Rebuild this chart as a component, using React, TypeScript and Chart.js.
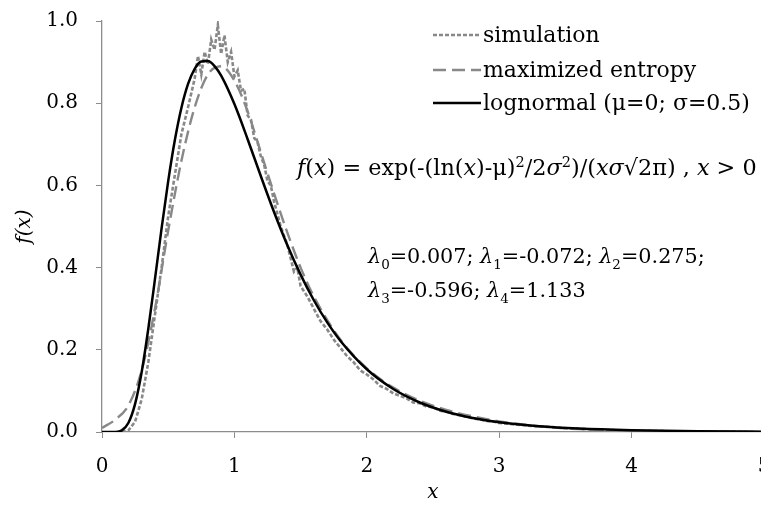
import React, { useEffect, useRef } from "react";
import { Chart, registerables } from "chart.js";

Chart.register(...registerables);

// ---- Data ----
const lognormX = [0, 0.05, 0.1, 0.15, 0.2, 0.25, 0.3, 0.35, 0.4, 0.45, 0.5, 0.55, 0.6, 0.65, 0.7, 0.75, 0.8, 0.85, 0.9, 1.0, 1.1, 1.2, 1.3, 1.4, 1.5, 1.6, 1.7, 1.8, 2.0, 2.2, 2.4, 2.6, 2.8, 3.0, 3.3, 3.6, 4.0, 4.5, 5.0];
const lognormY = [0, 0, 0.0002, 0.004, 0.0225, 0.0684, 0.1465, 0.2517, 0.372, 0.4954, 0.6104, 0.7098, 0.7891, 0.8469, 0.8837, 0.9015, 0.9028, 0.8904, 0.867, 0.7979, 0.7123, 0.6222, 0.5348, 0.4545, 0.3829, 0.3206, 0.2672, 0.2221, 0.1526, 0.1046, 0.0718, 0.0494, 0.0342, 0.0238, 0.014, 0.0083, 0.0043, 0.0019, 0.0009];

const maxEntX = [0, 0.1, 0.2, 0.3, 0.4, 0.5, 0.6, 0.7, 0.8, 0.9, 1.0, 1.1, 1.2, 1.3, 1.4, 1.5, 1.6, 1.8, 2.0, 2.2, 2.4, 2.6, 2.8, 3.0, 3.3, 3.6, 4.0, 4.5, 5.0];
const maxEntY = [0.01, 0.03, 0.065, 0.15, 0.3, 0.49, 0.66, 0.79, 0.87, 0.89, 0.855, 0.78, 0.68, 0.58, 0.485, 0.4, 0.33, 0.225, 0.155, 0.108, 0.076, 0.054, 0.038, 0.026, 0.014, 0.007, 0.003, 0.001, 0.0];

const simX = [0.15, 0.2, 0.25, 0.3, 0.35, 0.4, 0.45, 0.5, 0.55, 0.6, 0.65, 0.7, 0.725, 0.75, 0.775, 0.8, 0.825, 0.85, 0.875, 0.9, 0.925, 0.95, 0.975, 1.0, 1.025, 1.05, 1.075, 1.1, 1.125, 1.15, 1.175, 1.2, 1.225, 1.25, 1.275, 1.3, 1.35, 1.4, 1.45, 1.475, 1.5, 1.55, 1.6, 1.65, 1.7, 1.75, 1.8, 1.85, 1.9, 1.95, 2.0, 2.05, 2.1, 2.15, 2.2, 2.25, 2.3, 2.35, 2.4, 2.45, 2.5, 2.55, 2.6, 2.65, 2.7, 2.75, 2.8, 2.85, 2.9, 2.95, 3.0, 3.1, 3.2, 3.3, 3.4, 3.5, 3.6, 3.7, 3.8, 3.9, 4.0, 4.25, 4.5, 5.0];
const simY = [0, 0.004, 0.025, 0.08, 0.17, 0.285, 0.4, 0.525, 0.625, 0.725, 0.79, 0.86, 0.915, 0.87, 0.925, 0.895, 0.955, 0.93, 0.99, 0.92, 0.965, 0.9, 0.925, 0.865, 0.88, 0.83, 0.835, 0.77, 0.76, 0.715, 0.705, 0.67, 0.65, 0.61, 0.6, 0.56, 0.5, 0.455, 0.39, 0.4, 0.355, 0.33, 0.3, 0.27, 0.25, 0.225, 0.205, 0.185, 0.17, 0.15, 0.14, 0.128, 0.112, 0.105, 0.094, 0.088, 0.082, 0.072, 0.07, 0.062, 0.06, 0.052, 0.05, 0.044, 0.041, 0.038, 0.033, 0.031, 0.027, 0.026, 0.022, 0.019, 0.016, 0.013, 0.012, 0.009, 0.008, 0.006, 0.005, 0.004, 0.003, 0.002, 0.001, 0];

const xTicks = [0, 1, 2, 3, 4, 5];
const yTicks = [0, 0.2, 0.4, 0.6, 0.8, 1.0];
const legendLabels = ["simulation", "maximized entropy", "lognormal (μ=0; σ=0.5)"];

const FONT = '"DejaVu Serif", serif';
const GRAY = "#888888";
const AXIS = "#8c8c8c";

type Run = { t: string; it?: boolean; sub?: boolean; sup?: boolean };

const formulaRuns: Run[] = [
  { t: "f", it: true }, { t: "(" }, { t: "x", it: true }, { t: ") = exp(-(ln(" }, { t: "x", it: true },
  { t: ")-μ)" }, { t: "2", sup: true }, { t: "/2" }, { t: "σ", it: true }, { t: "2", sup: true },
  { t: ")/(" }, { t: "xσ", it: true }, { t: "√2π) , " }, { t: "x", it: true }, { t: " > 0" },
];
const lambdaLine1: Run[] = [
  { t: "λ", it: true }, { t: "0", sub: true }, { t: "=0.007; " },
  { t: "λ", it: true }, { t: "1", sub: true }, { t: "=-0.072; " },
  { t: "λ", it: true }, { t: "2", sub: true }, { t: "=0.275;" },
];
const lambdaLine2: Run[] = [
  { t: "λ", it: true }, { t: "3", sub: true }, { t: "=-0.596; " },
  { t: "λ", it: true }, { t: "4", sub: true }, { t: "=1.133" },
];

function runFont(r: Run, size: number) {
  const s = r.sub || r.sup ? size * 0.65 : size;
  return `${r.it ? "italic " : ""}${s}px ${FONT}`;
}
function measureRuns(ctx: CanvasRenderingContext2D, runs: Run[], size: number) {
  let w = 0;
  for (const r of runs) {
    ctx.font = runFont(r, size);
    w += ctx.measureText(r.t).width;
  }
  return w;
}
function drawRuns(ctx: CanvasRenderingContext2D, runs: Run[], x: number, y: number, size: number) {
  for (const r of runs) {
    ctx.font = runFont(r, size);
    const dy = r.sub ? size * 0.28 : r.sup ? -size * 0.38 : 0;
    ctx.fillText(r.t, x, y + dy);
    x += ctx.measureText(r.t).width;
  }
}
function fitSize(ctx: CanvasRenderingContext2D, runs: Run[], target: number) {
  return (20 * target) / measureRuns(ctx, runs, 20);
}

const annotations = {
  id: "annotations",
  afterDraw(chart: any) {
    const ctx: CanvasRenderingContext2D = chart.ctx;
    ctx.save();
    ctx.fillStyle = "#000";
    ctx.textBaseline = "alphabetic";
    ctx.textAlign = "left";

    // legend
    const legSize = fitSize(ctx, [{ t: legendLabels[2] }], 267);
    const baselines = [42, 77, 110];
    const styles = [
      { dash: [4, 2], color: GRAY, w: 2.4 },
      { dash: [13, 6], color: GRAY, w: 2.4 },
      { dash: [], color: "#000", w: 2.4 },
    ];
    legendLabels.forEach((lab, i) => {
      const ly = baselines[i] - 7;
      ctx.save();
      ctx.strokeStyle = styles[i].color;
      ctx.lineWidth = styles[i].w;
      ctx.setLineDash(styles[i].dash);
      ctx.beginPath();
      ctx.moveTo(433, ly);
      ctx.lineTo(481, ly);
      ctx.stroke();
      ctx.restore();
      drawRuns(ctx, [{ t: lab }], 483, baselines[i], legSize);
    });

    // formula
    const fSize = fitSize(ctx, formulaRuns, 460);
    drawRuns(ctx, formulaRuns, 297, 175, fSize);

    // lambdas
    const lSize = fitSize(ctx, lambdaLine1, 337);
    drawRuns(ctx, lambdaLine1, 368, 263, lSize);
    drawRuns(ctx, lambdaLine2, 368, 297, lSize);
    ctx.restore();
  },
};

function pts(xs: number[], ys: number[]) {
  return xs.map((x, i) => ({ x, y: ys[i] }));
}

export default function App() {
  const ref = useRef<HTMLCanvasElement>(null);
  useEffect(() => {
    if (!ref.current) return;
    const chart = new Chart(ref.current, {
      type: "line",
      data: {
        datasets: [
          {
            label: legendLabels[2],
            data: pts(lognormX, lognormY),
            borderColor: "#000",
            borderWidth: 2.5,
            pointRadius: 0,
            cubicInterpolationMode: "monotone",
          },
          {
            label: legendLabels[1],
            data: pts(maxEntX, maxEntY),
            borderColor: GRAY,
            borderWidth: 2.4,
            borderDash: [13, 6],
            pointRadius: 0,
            cubicInterpolationMode: "monotone",
          },
          {
            label: legendLabels[0],
            data: pts(simX, simY),
            borderColor: GRAY,
            borderWidth: 2.6,
            borderDash: [4, 2],
            pointRadius: 0,
            tension: 0,
          },
        ],
      },
      options: {
        animation: false,
        responsive: false,
        maintainAspectRatio: false,
        layout: { padding: { top: 21, right: 0, left: 0, bottom: 0 } },
        plugins: { legend: { display: false }, tooltip: { enabled: false } },
        scales: {
          x: {
            type: "linear",
            min: 0,
            max: 5,
            afterBuildTicks: (s: any) => {
              s.ticks = xTicks.map((v) => ({ value: v }));
            },
            afterFit: (s: any) => {
              s.height = 73;
              s.paddingLeft = 0;
              s.paddingRight = 0;
            },
            ticks: {
              color: "#000",
              font: { family: FONT, size: 20 },
              padding: 17,
              maxRotation: 0,
              callback: (v: any) => String(v),
            },
            grid: { drawOnChartArea: false, drawTicks: true, tickLength: 6, color: AXIS },
            border: { color: AXIS, width: 1.3 },
            title: {
              display: true,
              text: "x",
              color: "#000",
              font: { family: FONT, size: 20, style: "italic" },
              padding: { top: 0, bottom: 0 },
            },
          },
          y: {
            type: "linear",
            min: 0,
            max: 1,
            afterBuildTicks: (s: any) => {
              s.ticks = yTicks.map((v) => ({ value: v }));
            },
            afterFit: (s: any) => {
              s.width = 102;
              s.paddingTop = 0;
              s.paddingBottom = 0;
            },
            ticks: {
              color: "#000",
              font: { family: FONT, size: 20 },
              padding: 18,
              callback: (v: any) => Number(v).toFixed(1),
            },
            grid: { drawOnChartArea: false, drawTicks: true, tickLength: 6, color: AXIS },
            border: { color: AXIS, width: 1.3 },
            title: {
              display: true,
              text: "f(x)",
              color: "#000",
              font: { family: FONT, size: 20, style: "italic" },
              padding: { top: 13, bottom: 0 },
            },
          },
        },
      },
      plugins: [annotations],
    });
    return () => chart.destroy();
  }, []);

  return (
    <div style={{ position: "fixed", left: 0, top: 0, width: 761, height: 505, overflow: "hidden", background: "#fff" }}>
      <canvas ref={ref} width={764} height={505} style={{ width: 764, height: 505, display: "block" }} />
    </div>
  );
}
